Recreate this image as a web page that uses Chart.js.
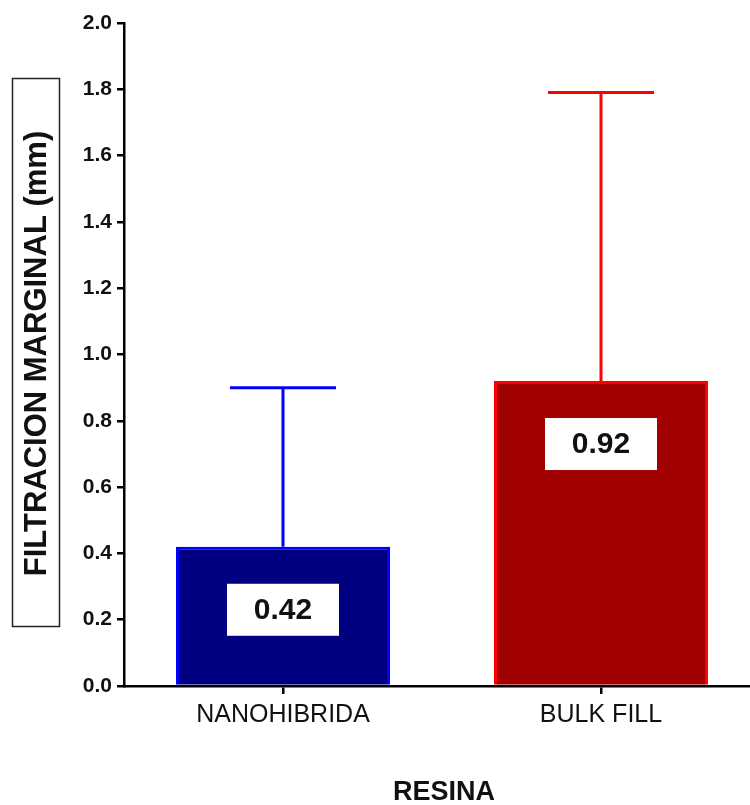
<!DOCTYPE html>
<html>
<head>
<meta charset="utf-8">
<script src="https://cdn.jsdelivr.net/npm/chart.js@4"></script>
<style>
  html, body { margin: 0; padding: 0; background: #fff; overflow: hidden; }
  #wrap { position: relative; width: 760px; height: 805px; }
</style>
</head>
<body>
<div id="wrap"><canvas id="c"></canvas></div>
<script>
const categories = ["NANOHIBRIDA", "BULK FILL"];
const means = [0.42, 0.92];
const upperErrors = [0.90, 1.79];
const valueLabels = ["0.42", "0.92"];
const fillColors = ["#000080", "#A00000"];
const edgeColors = ["#0000FF", "#FF0000"];
const yTitle = "FILTRACION MARGINAL (mm)";
const xTitle = "RESINA";

const FONT = "'Liberation Sans', Arial, sans-serif";
const INK = "#111";

const annot = {
  id: "annot",
  afterDatasetsDraw(chart) {
    const ctx = chart.ctx;
    const meta = chart.getDatasetMeta(0);
    const y = chart.scales.y;
    ctx.save();
    meta.data.forEach((bar, i) => {
      const cx = bar.x;
      const top = bar.y;
      const yUp = y.getPixelForValue(upperErrors[i]);
      ctx.strokeStyle = edgeColors[i];
      ctx.lineWidth = 3;
      ctx.lineCap = "butt";
      ctx.beginPath();
      ctx.moveTo(cx, top);
      ctx.lineTo(cx, yUp);
      ctx.moveTo(cx - 53, yUp);
      ctx.lineTo(cx + 53, yUp);
      ctx.stroke();
      const bw = 112, bh = 52;
      const by = top + 37;
      ctx.fillStyle = "#fff";
      ctx.fillRect(cx - bw / 2, by, bw, bh);
      ctx.fillStyle = INK;
      ctx.font = "bold 30px " + FONT;
      ctx.textAlign = "center";
      ctx.textBaseline = "middle";
      ctx.fillText(valueLabels[i], cx, by + bh / 2 + 1);
    });
    ctx.restore();
  },
  afterDraw(chart) {
    const ctx = chart.ctx;
    const ca = chart.chartArea;
    ctx.save();
    const cy = (ca.top + ca.bottom) / 2 - 1;
    ctx.strokeStyle = "#222";
    ctx.lineWidth = 1.5;
    ctx.strokeRect(12.5, 78.5, 47, 548);
    ctx.translate(37, cy);
    ctx.rotate(-Math.PI / 2);
    ctx.fillStyle = INK;
    ctx.font = "bold 31px " + FONT;
    ctx.textAlign = "center";
    ctx.textBaseline = "middle";
    ctx.fillText(yTitle, 0, 0);
    ctx.restore();
    ctx.save();
    ctx.fillStyle = INK;
    ctx.font = "bold 27px " + FONT;
    ctx.textAlign = "center";
    ctx.textBaseline = "middle";
    ctx.fillText(xTitle, 444, 793);
    ctx.restore();
  }
};

new Chart(document.getElementById("c"), {
  type: "bar",
  data: {
    labels: categories,
    datasets: [{
      data: means,
      backgroundColor: fillColors,
      borderColor: edgeColors,
      borderWidth: 3,
      borderSkipped: "bottom",
      barPercentage: 0.673,
      categoryPercentage: 1.0
    }]
  },
  options: {
    responsive: true,
    maintainAspectRatio: false,
    animation: false,
    devicePixelRatio: 1,
    layout: { padding: { top: 23, left: 0, right: 0, bottom: 0 } },
    plugins: { legend: { display: false }, tooltip: { enabled: false } },
    scales: {
      x: {
        offset: true,
        grid: { display: true, offset: false, drawOnChartArea: false, drawTicks: true, tickLength: 8, color: "#000", lineWidth: 2.5 },
        border: { display: true, color: "#000", width: 2.5 },
        ticks: { color: INK, font: { family: FONT, size: 25 }, padding: 6, maxRotation: 0 },
        afterFit(s) { s.height = 119; }
      },
      y: {
        min: 0, max: 2,
        grid: { display: true, drawOnChartArea: false, drawTicks: true, tickLength: 7, color: "#000", lineWidth: 2.5 },
        border: { display: true, color: "#000", width: 2.5 },
        ticks: { stepSize: 0.2, color: INK, font: { family: FONT, size: 21, weight: "bold" }, padding: 5,
                 callback: v => Number(v).toFixed(1) },
        afterFit(s) { s.width = 124; }
      }
    }
  },
  plugins: [annot]
});
</script>
</body>
</html>
